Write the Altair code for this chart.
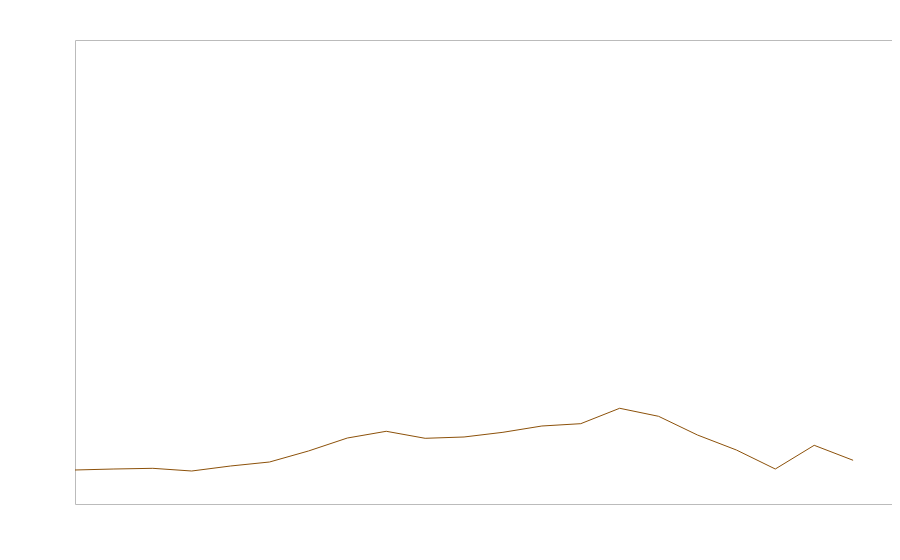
import altair as alt
import pandas as pd

idx = list(range(21))
values = [7.33, 7.54, 7.69, 7.11, 8.19, 9.05, 11.42, 14.22, 15.67, 14.16, 14.44,
          15.45, 16.81, 17.31, 20.63, 18.9, 14.87, 11.64, 7.54, 12.65, 9.42]

df = pd.DataFrame({"i": idx, "v": values})

chart = alt.Chart(df).mark_line(color="#8c510a", strokeWidth=1).encode(
    x=alt.X("i:Q", scale=alt.Scale(domain=[0, 21], nice=False, zero=False), axis=None),
    y=alt.Y("v:Q", scale=alt.Scale(domain=[0, 100], nice=False), axis=None),
).properties(
    width=817, height=464,
    autosize=alt.AutoSizeParams(type="none"),
    padding={"left": 67, "top": 32, "right": 0, "bottom": 8},
).configure_view(stroke="#bbbbbb", strokeWidth=1)

chart.save("out.html", embed_options={"renderer": "svg", "actions": False})
